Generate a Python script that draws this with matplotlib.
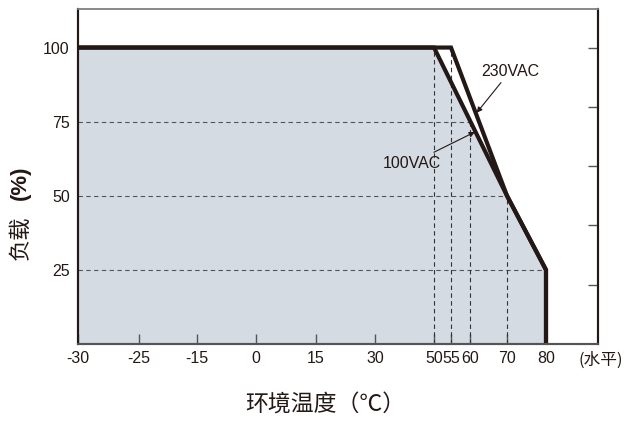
import matplotlib
matplotlib.use('Agg')
import matplotlib.pyplot as plt
import numpy as np

# data
temps_100vac = [-30, 50, 70, 80, 80]
load_100vac = [100, 100, 50, 25, 0]
temps_230vac = [-30, 55, 70, 80, 80]
load_230vac = [100, 100, 50, 25, 0]

x_ticks = [-30, -25, -15, 0, 15, 30, 50, 55, 60, 70, 80]
y_ticks = [25, 50, 75, 100]
right_ticks = [20, 40, 60, 80, 100]

# guide lines (value, end)
h_guides = [(75, 60), (50, 70), (25, 80)]
v_guides = [(50, 100), (55, 100), (60, 75), (70, 50)]

# uneven x axis: tick value -> position along axis
scale_vals = x_ticks + [94]
scale_pos = [0, 61, 119, 178, 238, 297, 356, 373, 392, 429, 468, 520]

def fwd(v):
    return np.interp(v, scale_vals, scale_pos, left=-1, right=600)

def inv(p):
    return np.interp(p, scale_pos, scale_vals)

dark = '#231815'
fill_c = '#d4dbe3'
num_font = ['Liberation Sans Narrow', 'Liberation Sans', 'DejaVu Sans']
cjk_font = ['Noto Sans CJK SC', 'DejaVu Sans']

fig = plt.figure(figsize=(6.25, 4.25), dpi=100)
ax = fig.add_axes([78/625, 81/425, 520/625, 335/425])
ax.set_xscale('function', functions=(fwd, inv))
ax.set_xlim(-30, 94)
ax.set_ylim(0, 113)

ax.fill_between(temps_100vac[:-1], load_100vac[:-1], 0, color=fill_c, lw=0, zorder=1)

for y, xe in h_guides:
    ax.plot([-30, xe], [y, y], ls=(0, (4, 3)), lw=0.8, color='#555555', zorder=2)
for xv, ye in v_guides:
    ax.plot([xv, xv], [0, ye], ls=(0, (4, 3)), lw=0.8, color='#333333', zorder=2)

ax.plot(temps_230vac, load_230vac, color=dark, lw=3, solid_joinstyle='miter', zorder=3)
ax.plot(temps_100vac, load_100vac, color=dark, lw=3, solid_joinstyle='miter', zorder=3)

arrow = dict(arrowstyle='-|>', lw=0.8, color=dark, mutation_scale=8, shrinkA=1, shrinkB=0)
ax.annotate('230VAC', xy=(61.8, 78), xytext=(70.8, 92), ha='center', va='center',
            fontsize=11.5, family=num_font, color=dark, arrowprops=arrow, zorder=4)
ax.annotate('100VAC', xy=(61.3, 71.5), xytext=(42.5, 61), ha='center', va='center',
            fontsize=11.5, family=num_font, color=dark, arrowprops=arrow, zorder=4)

ax.set_xticks(x_ticks)
ax.set_xticklabels([str(t) for t in x_ticks], family=num_font, fontsize=11.5, color=dark)
ax.set_yticks(y_ticks)
ax.set_yticklabels([str(t) for t in y_ticks], family=num_font, fontsize=11.5, color=dark)
ax.tick_params(axis='x', direction='in', length=7, width=1, color='#555555', pad=5)
ax.tick_params(axis='y', length=0, pad=6)
ax.xaxis.set_minor_locator(matplotlib.ticker.NullLocator())

ax2 = ax.twinx()
ax2.set_ylim(0, 113)
ax2.set_yticks(right_ticks)
ax2.set_yticklabels([])
ax2.tick_params(axis='y', direction='in', length=7, width=1, color='#555555')
for a in (ax, ax2):
    a.spines['top'].set_color('#888888')
    a.spines['top'].set_linewidth(1.2)
    a.spines['bottom'].set_color('#555555')
    a.spines['bottom'].set_linewidth(1.5)
    a.spines['left'].set_color(dark)
    a.spines['left'].set_linewidth(1.5)
    a.spines['right'].set_color(dark)
    a.spines['right'].set_linewidth(1.5)

ax.text(1.006, -0.047, '(水平)', transform=ax.transAxes, ha='center', va='center',
        fontsize=12, family=cjk_font, color=dark, fontweight='light')
fig.text(325/625, 1 - 405/425, '环境温度（℃）', ha='center', va='center',
         fontsize=16.5, family=cjk_font, color=dark, fontweight='light')
fig.text(20/625, 1 - 238/425, '负载', ha='center', va='center', rotation=90,
         fontsize=16, family=cjk_font, color=dark, fontweight='light')
fig.text(20/625, 1 - 183/425, '(%)', ha='center', va='center', rotation=90,
         fontsize=16, family=['Liberation Sans', 'DejaVu Sans'], color=dark, fontweight='bold')

fig.savefig('out.png', dpi=100)
